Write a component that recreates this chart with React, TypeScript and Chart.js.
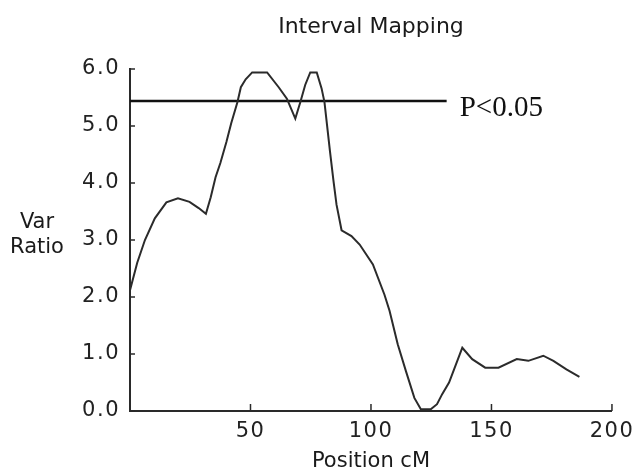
import React, { useEffect, useRef } from "react";
import { Chart, registerables } from "chart.js";

Chart.register(...registerables);

const chartTitle = "Interval Mapping";
const xAxisTitle = "Position cM";
const yAxisTitleLines = ["Var", "Ratio"];

const positionsCM = [
  0, 3, 6.2, 10.3, 15.1, 19.9, 24.7, 28.5, 31.5, 33.5, 35.5, 37.5, 40, 42, 44.6,
  46, 48, 50.7, 56.9, 61.7, 65.1, 68.6, 70.7, 72.7, 74.8, 77.5, 79.5, 80.7, 83,
  84.4, 85.7, 87.8, 91.9, 95.3, 100.8, 105.6, 107.7, 111.1, 114.5, 118, 120.7,
  124.8, 127.4, 129.6, 132.4, 134.4, 137.9, 142, 147.4, 152.9, 160.5, 165.3,
  171.5, 175.7, 181.1, 186.5,
];
const varRatio = [
  2.12, 2.6, 3.0, 3.38, 3.66, 3.73, 3.67, 3.56, 3.46, 3.75, 4.1, 4.35, 4.72, 5.05,
  5.42, 5.68, 5.82, 5.94, 5.94, 5.68, 5.48, 5.13, 5.42, 5.72, 5.94, 5.94, 5.66,
  5.42, 4.55, 4.05, 3.62, 3.17, 3.07, 2.92, 2.57, 2.04, 1.76, 1.17, 0.7, 0.23, 0.03,
  0.03, 0.12, 0.3, 0.5, 0.72, 1.11, 0.91, 0.76, 0.76, 0.91, 0.88, 0.97, 0.88,
  0.73, 0.6,
];

const thresholdPositions = [0, 131.4];
const thresholdValue = 5.44;
const thresholdLabel = "P<0.05";

const xTickValues = [50, 100, 150, 200];
const yTickValues = [0, 1, 2, 3, 4, 5, 6];

const SANS = "'DejaVu Sans', 'Verdana', sans-serif";
const SERIF = "'Liberation Serif', 'Times New Roman', serif";

export default function App() {
  const ref = useRef<HTMLCanvasElement | null>(null);

  useEffect(() => {
    const canvas = ref.current;
    if (!canvas) return;

    const overlay = {
      id: "overlay",
      beforeDraw(chart: any) {
        const ctx = chart.ctx;
        ctx.save();
        ctx.fillStyle = "#ffffff";
        ctx.fillRect(0, 0, chart.width, chart.height);
        ctx.restore();
        (ctx as any).letterSpacing = "1.5px";
      },
      afterDraw(chart: any) {
        const ctx = chart.ctx;
        (ctx as any).letterSpacing = "0px";
        const ca = chart.chartArea;
        const xs = chart.scales.x;
        const ys = chart.scales.y;
        ctx.save();
        // inward tick marks
        ctx.strokeStyle = "#2a2a2a";
        ctx.lineWidth = 1.5;
        ctx.beginPath();
        xs.ticks.forEach((t: any) => {
          const px = xs.getPixelForValue(t.value);
          ctx.moveTo(px, ca.bottom);
          ctx.lineTo(px, ca.bottom - 7);
        });
        ys.ticks.forEach((t: any) => {
          const py = ys.getPixelForValue(t.value);
          ctx.moveTo(ca.left, py);
          ctx.lineTo(ca.left + 5, py);
        });
        ctx.stroke();

        ctx.fillStyle = "#1a1a1a";
        // title
        ctx.font = `22px ${SANS}`;
        ctx.textAlign = "center";
        ctx.textBaseline = "alphabetic";
        ctx.fillText(chartTitle, (ca.left + ca.right) / 2, 33);
        // x axis title
        ctx.font = `21px ${SANS}`;
        ctx.fillText(xAxisTitle, (ca.left + ca.right) / 2, 467);
        // y axis title (horizontal, two lines)
        ctx.fillText(yAxisTitleLines[0], 37, 228);
        ctx.fillText(yAxisTitleLines[1], 37, 253);
        // threshold label
        ctx.font = `29px ${SERIF}`;
        ctx.textAlign = "left";
        ctx.fillStyle = "#111";
        const lx = xs.getPixelForValue(thresholdPositions[thresholdPositions.length - 1]) + 13;
        const ly = ys.getPixelForValue(thresholdValue) + 15.5;
        ctx.fillText(thresholdLabel, lx, ly);
        ctx.restore();
      },
    };

    const chart = new Chart(canvas, {
      type: "line",
      data: {
        datasets: [
          {
            label: "Var Ratio",
            data: positionsCM.map((x, i) => ({ x, y: varRatio[i] })),
            borderColor: "#2b2b2b",
            borderWidth: 2,
            pointRadius: 0,
            tension: 0,
            fill: false,
          },
          {
            label: thresholdLabel,
            data: thresholdPositions.map((x) => ({ x, y: thresholdValue })),
            borderColor: "#111111",
            borderWidth: 2.5,
            pointRadius: 0,
            tension: 0,
            fill: false,
          },
        ],
      },
      options: {
        responsive: false,
        animation: false,
        devicePixelRatio: 1,
        layout: { padding: { top: 69, right: 23, bottom: 0, left: 0 } },
        plugins: {
          legend: { display: false },
          title: { display: false },
          tooltip: { enabled: false },
        },
        scales: {
          x: {
            type: "linear",
            min: 0,
            max: 200,
            grid: { display: false, drawOnChartArea: false, drawTicks: false },
            border: { display: true, color: "#2a2a2a", width: 2 },
            ticks: {
              color: "#222",
              font: { family: SANS, size: 21 },
              padding: 8,
              maxRotation: 0,
              autoSkip: false,
            },
            afterBuildTicks: (s: any) => {
              s.ticks = xTickValues.map((v) => ({ value: v }));
            },
            afterFit: (s: any) => {
              s.height = 59;
            },
          },
          y: {
            type: "linear",
            min: 0,
            max: 6,
            grid: { display: false, drawOnChartArea: false, drawTicks: false },
            border: { display: true, color: "#2a2a2a", width: 2 },
            ticks: {
              color: "#222",
              font: { family: SANS, size: 21 },
              padding: 10,
              autoSkip: false,
              callback: (v: any) => Number(v).toFixed(1),
            },
            afterBuildTicks: (s: any) => {
              s.ticks = yTickValues.map((v) => ({ value: v }));
            },
            afterFit: (s: any) => {
              s.width = 130;
            },
          },
        },
      },
      plugins: [overlay],
    } as any);

    return () => {
      chart.destroy();
    };
  }, []);

  return (
    <div style={{ position: "absolute", left: 0, top: 0, width: 640, height: 470 }}>
      <canvas ref={ref} width={640} height={470} style={{ display: "block" }} />
    </div>
  );
}
